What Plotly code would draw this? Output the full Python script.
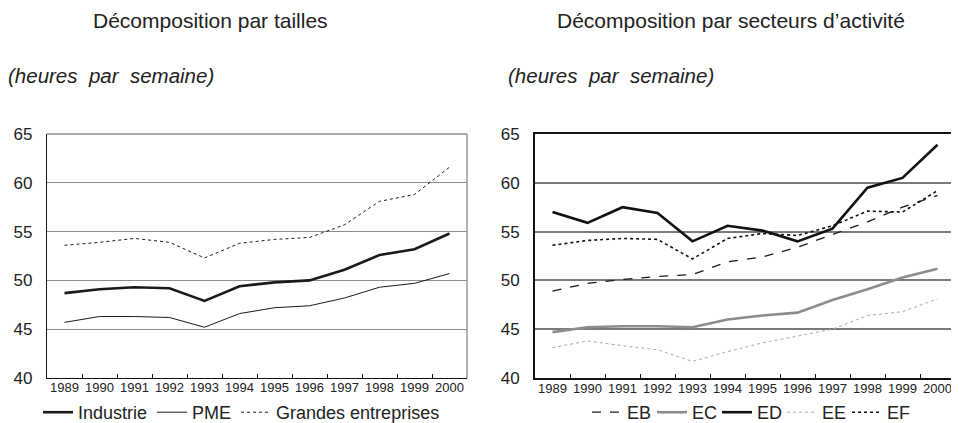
import plotly.graph_objects as go
from plotly.subplots import make_subplots

years = [str(y) for y in range(1989, 2001)]

# Left panel: by size
industrie = [48.7, 49.1, 49.3, 49.2, 47.9, 49.4, 49.8, 50.0, 51.1, 52.6, 53.2, 54.8]
pme = [45.7, 46.3, 46.3, 46.2, 45.2, 46.6, 47.2, 47.4, 48.2, 49.3, 49.7, 50.7]
grandes = [53.6, 53.9, 54.3, 53.9, 52.3, 53.8, 54.2, 54.4, 55.7, 58.1, 58.8, 61.6]

# Right panel: by sector
eb = [48.9, 49.7, 50.1, 50.4, 50.6, 51.9, 52.4, 53.4, 54.7, 56.0, 57.5, 58.7]
ec = [44.7, 45.2, 45.3, 45.3, 45.2, 46.0, 46.4, 46.7, 48.0, 49.1, 50.3, 51.2]
ed = [57.0, 55.9, 57.5, 56.9, 54.0, 55.6, 55.1, 54.0, 55.3, 59.5, 60.5, 63.9]
ee = [43.1, 43.8, 43.3, 42.9, 41.7, 42.7, 43.6, 44.3, 45.0, 46.4, 46.8, 48.1]
ef = [53.6, 54.1, 54.3, 54.2, 52.2, 54.3, 54.8, 54.6, 55.6, 57.1, 57.0, 59.2]

FONT = "Liberation Sans, Arial, sans-serif"

# page has an 8px body margin: figure is placed at (8, 8)
OFF = 8
W, H = 959 - OFF, 423 - OFF
def px_x(p):
    return (p - OFF) / W
def px_y(p):
    return 1 - (p - OFF) / H

fig = make_subplots(rows=1, cols=2)

fig.add_trace(go.Scatter(x=years, y=industrie, name="Industrie", mode="lines",
                         line=dict(color="#1a1a1a", width=2.6), legend="legend"), 1, 1)
fig.add_trace(go.Scatter(x=years, y=pme, name="PME", mode="lines",
                         line=dict(color="#1a1a1a", width=1), legend="legend"), 1, 1)
fig.add_trace(go.Scatter(x=years, y=grandes, name="Grandes entreprises", mode="lines",
                         line=dict(color="#1a1a1a", width=1, dash="dot"), legend="legend"), 1, 1)

fig.add_trace(go.Scatter(x=years, y=eb, name="EB", mode="lines",
                         line=dict(color="#1a1a1a", width=1.3, dash="dash"), legend="legend2"), 1, 2)
fig.add_trace(go.Scatter(x=years, y=ec, name="EC", mode="lines",
                         line=dict(color="#8c8c8c", width=2.6), legend="legend2"), 1, 2)
fig.add_trace(go.Scatter(x=years, y=ed, name="ED", mode="lines",
                         line=dict(color="#111111", width=2.6), legend="legend2"), 1, 2)
fig.add_trace(go.Scatter(x=years, y=ee, name="EE", mode="lines",
                         line=dict(color="#a8a8a8", width=1, dash="dot"), legend="legend2"), 1, 2)
fig.add_trace(go.Scatter(x=years, y=ef, name="EF", mode="lines",
                         line=dict(color="#111111", width=1.6, dash="dot"), legend="legend2"), 1, 2)

ydom = [px_y(378), px_y(134)]
xcommon = dict(type="category", categoryorder="array", categoryarray=years,
               range=[-0.5, 11.5], tickson="boundaries", ticks="inside", ticklen=4,
               tickcolor="#111", showgrid=False, showline=True, linecolor="#111",
               tickangle=0, automargin=False, ticklabelstandoff=-3,
               tickfont=dict(family=FONT, size=13, color="#222"), fixedrange=True)
ycommon = dict(range=[40, 65], dtick=5, showgrid=True, zeroline=False, automargin=False,
               showline=True, linecolor="#111", ticks="", ticklabelstandoff=10,
               tickfont=dict(family=FONT, size=17, color="#222"), domain=ydom)

fig.update_xaxes(**xcommon, linewidth=1.4, domain=[px_x(47), px_x(467)], row=1, col=1)
fig.update_xaxes(**xcommon, linewidth=2, mirror=True, domain=[px_x(535), px_x(955)], row=1, col=2)
fig.update_yaxes(**ycommon, linewidth=1.4, gridcolor="#8e8e8e", gridwidth=1.4, row=1, col=1)
fig.update_yaxes(**ycommon, linewidth=2, mirror=True, gridcolor="#7a7a7a", gridwidth=1.6, row=1, col=2)

# gray top/right border of the left panel
fig.add_shape(type="line", xref="x domain", yref="y domain", x0=0, x1=1, y0=1, y1=1,
              line=dict(color="#8e8e8e", width=1.4), layer="below")
fig.add_shape(type="line", xref="x domain", yref="y domain", x0=1, x1=1, y0=0, y1=1,
              line=dict(color="#8e8e8e", width=1.4), layer="below")

fig.add_annotation(text="Décomposition par tailles", xref="paper", yref="paper",
                   x=px_x(210), y=px_y(20), showarrow=False, xanchor="center", yanchor="middle",
                   font=dict(family=FONT, size=21, color="#222"))
fig.add_annotation(text="Décomposition par secteurs d’activité", xref="paper", yref="paper",
                   x=px_x(731), y=px_y(20), showarrow=False, xanchor="center", yanchor="middle",
                   font=dict(family=FONT, size=21, color="#222"))
sp = "\u00a0\u00a0"
for x0 in (6, 506):
    fig.add_annotation(text="<i>(heures" + sp + "par" + sp + "semaine)</i>", xref="paper", yref="paper",
                       x=px_x(x0), y=px_y(76), showarrow=False, xanchor="left", yanchor="middle",
                       font=dict(family=FONT, size=20.5, color="#222"))

legfont = dict(family=FONT, size=18, color="#222")
fig.update_layout(
    width=W, height=H, margin=dict(l=0, r=0, t=0, b=0, autoexpand=False),
    paper_bgcolor="white", plot_bgcolor="white",
    legend=dict(orientation="h", x=px_x(38), y=px_y(394), xanchor="left", yanchor="top",
                font=legfont, bgcolor="rgba(0,0,0,0)", itemwidth=30, tracegroupgap=0),
    legend2=dict(orientation="h", x=px_x(587), y=px_y(394), xanchor="left", yanchor="top",
                 font=legfont, bgcolor="rgba(0,0,0,0)", itemwidth=30, entrywidth=20),
)

fig.write_html("out.html")
